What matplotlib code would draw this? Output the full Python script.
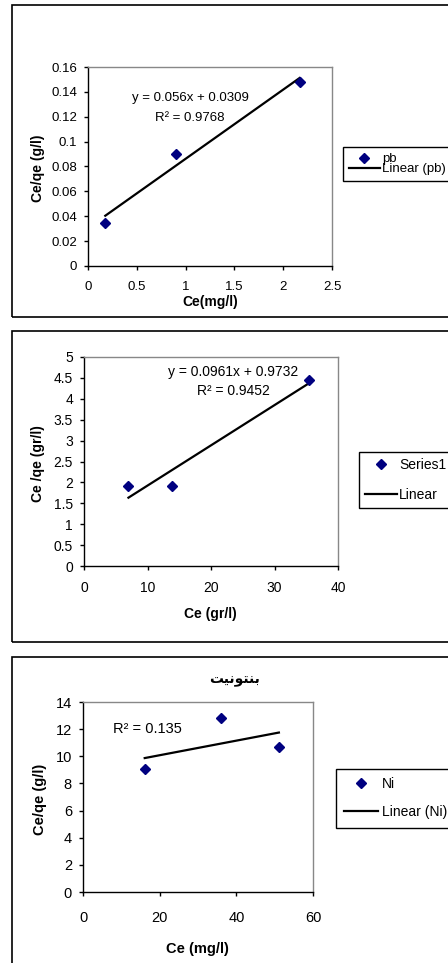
import numpy as np
import matplotlib
matplotlib.use("Agg")
import matplotlib.pyplot as plt
from matplotlib.patches import Rectangle

plt.rcParams['font.family'] = ['Liberation Sans', 'DejaVu Sans']

W, H = 448, 963

# ---- data ----
pb_x = [0.177, 0.897, 2.169]
pb_y = [0.0342, 0.0902, 0.1477]
pb_eq = "y = 0.056x + 0.0309"
pb_r2 = "R² = 0.9768"

s1_x = [7.0, 13.87, 35.4]
s1_y = [1.92, 1.92, 4.46]
s1_eq = "y = 0.0961x + 0.9732"
s1_r2 = "R² = 0.9452"

ni_x = [16.1, 36.1, 51.1]
ni_y = [9.06, 12.83, 10.67]
ni_r2 = "R² = 0.135"
ni_title = "\ufe96\ufef4\ufee7\ufeee\ufe98\ufee8\ufe91"  # بنتونيت (presentation forms, visual order)

fig = plt.figure(figsize=(W / 100, H / 100), dpi=100)


def fx(x):
    return x / W


def fy(y):
    return 1 - y / H


def add_ax(x0, y0, x1, y1):
    return fig.add_axes([fx(x0), fy(y1), (x1 - x0) / W, (y1 - y0) / H])


# panel borders
for top, bot in [(5, 317), (331, 642), (657, 975)]:
    fig.add_artist(Rectangle((fx(12), fy(bot)), (470 - 12) / W, (bot - top) / H,
                             transform=fig.transFigure, fill=False,
                             edgecolor='black', linewidth=1.2))


def style(ax, fs, xpad):
    for s in ['top', 'right']:
        ax.spines[s].set_color('#888888')
    for s in ['left', 'bottom']:
        ax.spines[s].set_color('black')
    for s in ax.spines.values():
        s.set_linewidth(1.0)
    ax.tick_params(axis='x', direction='out', length=3, width=1, labelsize=fs, pad=xpad)
    ax.tick_params(axis='y', direction='out', length=3, width=1, labelsize=fs, pad=5)


def draw(ax, x, y, label, linelabel):
    ax.plot(x, y, linestyle='none', marker='D', color='#000080', markersize=5.5, label=label, zorder=3)
    k, b = np.polyfit(x, y, 1)
    xs = np.array([min(x), max(x)])
    ax.plot(xs, k * xs + b, color='black', linewidth=1.6, label=linelabel, zorder=2)


# ---- panel 1 ----
ax1 = add_ax(88, 67, 332, 266)
draw(ax1, pb_x, pb_y, 'pb', 'Linear (pb)')
ax1.set_xlim(0, 2.5)
ax1.set_ylim(0, 0.16)
ax1.set_xticks([0, 0.5, 1, 1.5, 2, 2.5])
ax1.set_xticklabels(['0', '0.5', '1', '1.5', '2', '2.5'])
ax1.set_yticks([0, 0.02, 0.04, 0.06, 0.08, 0.1, 0.12, 0.14, 0.16])
ax1.set_yticklabels(['0', '0.02', '0.04', '0.06', '0.08', '0.1', '0.12', '0.14', '0.16'])
style(ax1, 9.5, 8)
ax1.set_xlabel('Ce(mg/l)', fontsize=10, fontweight='bold', va='center')
ax1.set_ylabel('Ce/qe (g/l)', fontsize=10, fontweight='bold', va='center')
ax1.xaxis.set_label_coords(0.5, -0.181)
ax1.yaxis.set_label_coords(-0.205, 0.49)
ax1.text(0.418, 0.844, pb_eq, transform=ax1.transAxes, ha='center', va='center', fontsize=9.5)
ax1.text(0.418, 0.744, pb_r2, transform=ax1.transAxes, ha='center', va='center', fontsize=9.5)
leg1 = ax1.legend(loc='upper left', bbox_to_anchor=(fx(343), fy(147)), bbox_transform=fig.transFigure,
                  borderaxespad=0, fontsize=9.5, handlelength=2.35, handletextpad=0.15,
                  borderpad=0.45, labelspacing=-0.15, fancybox=False, framealpha=1)
leg1.get_frame().set_edgecolor('black')
leg1.get_frame().set_linewidth(1.0)

# ---- panel 2 ----
ax2 = add_ax(84, 357, 338, 566)
draw(ax2, s1_x, s1_y, 'Series1', 'Linear')
ax2.set_xlim(0, 40)
ax2.set_ylim(0, 5)
ax2.set_xticks([0, 10, 20, 30, 40])
ax2.set_yticks([0, 0.5, 1, 1.5, 2, 2.5, 3, 3.5, 4, 4.5, 5])
ax2.set_yticklabels(['0', '0.5', '1', '1.5', '2', '2.5', '3', '3.5', '4', '4.5', '5'])
style(ax2, 10, 8)
ax2.set_xlabel('Ce (gr/l)', fontsize=10, fontweight='bold', va='center')
ax2.set_ylabel('Ce /qe (gr/l)', fontsize=10, fontweight='bold', va='center')
ax2.xaxis.set_label_coords(0.496, -0.23)
ax2.yaxis.set_label_coords(-0.181, 0.49)
ax2.text(0.587, 0.928, s1_eq, transform=ax2.transAxes, ha='center', va='center', fontsize=10)
ax2.text(0.587, 0.837, s1_r2, transform=ax2.transAxes, ha='center', va='center', fontsize=10)
leg2 = ax2.legend(loc='upper left', bbox_to_anchor=(fx(359), fy(452)), bbox_transform=fig.transFigure,
                  borderaxespad=0, fontsize=10, handlelength=2.3, handletextpad=0.2,
                  borderpad=0.4, labelspacing=1.2, fancybox=False, framealpha=1)
leg2.get_frame().set_edgecolor('black')
leg2.get_frame().set_linewidth(1.0)

# ---- panel 3 ----
ax3 = add_ax(83, 702, 313, 892)
draw(ax3, ni_x, ni_y, 'Ni', 'Linear (Ni)')
ax3.set_xlim(0, 60)
ax3.set_ylim(0, 14)
ax3.set_xticks([0, 20, 40, 60])
ax3.set_yticks([0, 2, 4, 6, 8, 10, 12, 14])
style(ax3, 10.5, 11)
ax3.set_xlabel('Ce (mg/l)', fontsize=10.5, fontweight='bold', va='center')
ax3.set_ylabel('Ce/qe (g/l)', fontsize=10.5, fontweight='bold', va='center')
ax3.xaxis.set_label_coords(0.496, -0.30)
ax3.yaxis.set_label_coords(-0.187, 0.49)
ax3.text(0.278, 0.858, ni_r2, transform=ax3.transAxes, ha='center', va='center', fontsize=10.5)
fig.text(fx(235), fy(680), ni_title, ha='center', va='center', fontsize=10,
         fontweight='bold', family=['DejaVu Sans'])
leg3 = ax3.legend(loc='upper left', bbox_to_anchor=(fx(336), fy(769)), bbox_transform=fig.transFigure,
                  borderaxespad=0, fontsize=10, handlelength=2.45, handletextpad=0.25,
                  borderpad=0.6, labelspacing=1.0, fancybox=False, framealpha=1)
leg3.get_frame().set_edgecolor('black')
leg3.get_frame().set_linewidth(1.0)

fig.savefig('out.png', dpi=100, facecolor='white')
